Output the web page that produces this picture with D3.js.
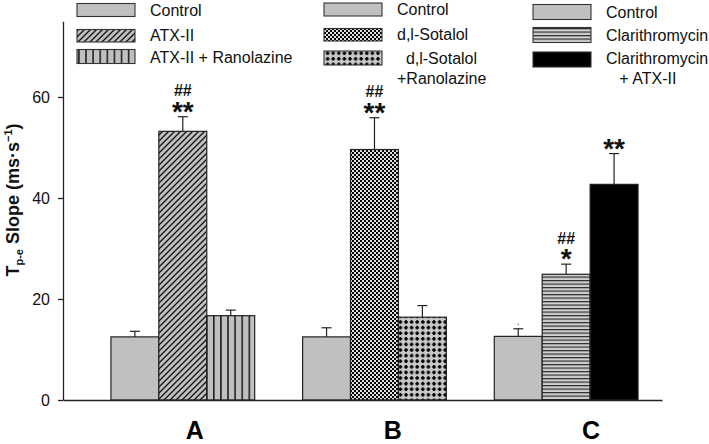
<!DOCTYPE html>
<html>
<head>
<meta charset="utf-8">
<script src="https://cdn.jsdelivr.net/npm/d3@7"></script>
<style>
  html, body { margin: 0; padding: 0; background: #fff; }
  svg { display: block; font-family: "Liberation Sans", Arial, sans-serif; }
</style>
</head>
<body>
<svg id="chart" width="709" height="444"></svg>
<script>
// ---- data ----
const groups = ["A", "B", "C"];
const seriesA = ["Control", "ATX-II", "ATX-II + Ranolazine"];
const seriesB = ["Control", "d,l-Sotalol", "d,l-Sotalol +Ranolazine"];
const seriesC = ["Control", "Clarithromycin", "Clarithromycin + ATX-II"];
const valuesA = [12.5, 53.2, 16.7];
const valuesB = [12.5, 49.6, 16.4];
const valuesC = [12.6, 24.9, 42.7];
const errorsA = [1.1, 2.9, 1.1];
const errorsB = [1.8, 6.3, 2.3];
const errorsC = [1.5, 2.0, 6.1];
const sigStarsA = ["", "**", ""];
const sigStarsB = ["", "**", ""];
const sigStarsC = ["", "*", "**"];
const sigHashA = ["", "##", ""];
const sigHashB = ["", "##", ""];
const sigHashC = ["", "##", ""];
const yTicks = [0, 20, 40, 60];
const yMax = 75;

// ---- setup ----
const svg = d3.select("#chart");
const defs = svg.append("defs");
const GRAY = "#c0c0c0";
const EDGE = "#222";

function pat(id, w, h) {
  return defs.append("pattern").attr("id", id).attr("patternUnits", "userSpaceOnUse")
    .attr("width", w).attr("height", h);
}
// diagonal hatch
let p = pat("diag", 6, 6);
p.append("rect").attr("width", 6).attr("height", 6).attr("fill", GRAY);
p.append("path").attr("d", "M-1,7 L7,-1 M-2,2 L2,-2 M4,8 L8,4").attr("stroke", "#111").attr("stroke-width", 1.3);
// vertical lines
p = pat("vert", 7.1, 10);
p.append("rect").attr("width", 7.1).attr("height", 10).attr("fill", GRAY);
p.append("rect").attr("x", 0).attr("width", 1.6).attr("height", 10).attr("fill", "#222");
// checker
p = pat("check", 4, 4);
p.append("rect").attr("width", 4).attr("height", 4).attr("fill", "#e0e0e0");
p.append("rect").attr("x", 0).attr("y", 0).attr("width", 2).attr("height", 2).attr("fill", "#000");
p.append("rect").attr("x", 2).attr("y", 2).attr("width", 2).attr("height", 2).attr("fill", "#000");
// dots
p = pat("dots", 5.6, 5.6);
p.append("rect").attr("width", 5.6).attr("height", 5.6).attr("fill", "#c8c8c8");
p.append("path").attr("d", "M2.8,0.9 v3.8 M0.9,2.8 h3.8").attr("stroke", "#000").attr("stroke-width", 1.6);
p.append("circle").attr("cx", 2.8).attr("cy", 2.8).attr("r", 1.5).attr("fill", "#000");
// horizontal lines
p = pat("horiz", 10, 3.5);
p.append("rect").attr("width", 10).attr("height", 3.5).attr("fill", "#d0d0d0");
p.append("rect").attr("y", 0).attr("width", 10).attr("height", 1.2).attr("fill", "#2a2a2a");

const fills = [
  [GRAY, "url(#diag)", "url(#vert)"],
  [GRAY, "url(#check)", "url(#dots)"],
  [GRAY, "url(#horiz)", "#000"]
];

const x = d3.scaleLinear().domain([-1, 11.5]).range([63, 662]);
const y = d3.scaleLinear().domain([0, yMax]).range([400, 21.25]);

const allSeries = [seriesA, seriesB, seriesC];
const allValues = [valuesA, valuesB, valuesC];
const allErrors = [errorsA, errorsB, errorsC];
const allStars = [sigStarsA, sigStarsB, sigStarsC];
const allHash = [sigHashA, sigHashB, sigHashC];

const bars = [];
groups.forEach((g, gi) => {
  allValues[gi].forEach((v, i) => {
    bars.push({ g: gi, i, slot: gi * 4 + i, v, e: allErrors[gi][i],
      fill: fills[gi][i], star: allStars[gi][i], hash: allHash[gi][i] });
  });
});

// bars
svg.append("g").selectAll("rect").data(bars).join("rect")
  .attr("x", d => x(d.slot))
  .attr("y", d => y(d.v))
  .attr("width", d => x(d.slot + 1) - x(d.slot))
  .attr("height", d => y(0) - y(d.v))
  .attr("fill", d => d.fill)
  .attr("stroke", EDGE).attr("stroke-width", 1.2);

// error bars
const eb = svg.append("g").attr("stroke", "#222").attr("stroke-width", 1.2);
eb.selectAll("line.v").data(bars).join("line").attr("class", "v")
  .attr("x1", d => x(d.slot + 0.5)).attr("x2", d => x(d.slot + 0.5))
  .attr("y1", d => y(d.v)).attr("y2", d => y(d.v + d.e));
eb.selectAll("line.c").data(bars).join("line").attr("class", "c")
  .attr("x1", d => x(d.slot + 0.5) - 5).attr("x2", d => x(d.slot + 0.5) + 5)
  .attr("y1", d => y(d.v + d.e)).attr("y2", d => y(d.v + d.e));

// significance marks
svg.append("g").selectAll("text").data(bars.filter(d => d.star)).join("text")
  .attr("x", d => x(d.slot + 0.5)).attr("y", d => y(d.v + d.e) + 4)
  .attr("text-anchor", "middle").attr("font-size", 28).attr("font-weight", "bold")
  .attr("fill", "#111").text(d => d.star);
svg.append("g").selectAll("text").data(bars.filter(d => d.hash)).join("text")
  .attr("x", d => x(d.slot + 0.5)).attr("y", d => y(d.v + d.e) - 20.5)
  .attr("text-anchor", "middle").attr("font-size", 16).attr("font-weight", "bold")
  .attr("fill", "#111").text(d => d.hash);
// small dot above d,l-Sotalol + Ranolazine
const dotBar = bars[6];
svg.append("text").attr("x", x(dotBar.slot + 0.5)).attr("y", y(dotBar.v + dotBar.e) - 4)
  .attr("text-anchor", "middle").attr("font-size", 10).attr("fill", "#333").text(".");

// y axis
const yAxis = svg.append("g").attr("transform", `translate(${x(-1)},0)`)
  .call(d3.axisLeft(y).tickValues(yTicks).tickSize(5).tickSizeOuter(0).tickPadding(8));
yAxis.selectAll("path, line").attr("stroke", "#222").attr("stroke-width", 1.3);
yAxis.selectAll("text").attr("font-size", 16).attr("font-family", "'Liberation Sans', Arial, sans-serif").attr("fill", "#111");

// x axis baseline
const xAxis = svg.append("g").attr("transform", `translate(0,${y(0)})`)
  .call(d3.axisBottom(x).tickValues([]).tickSizeOuter(0));
xAxis.selectAll("path").attr("stroke", "#222").attr("stroke-width", 1.5);

// group labels
const labelShift = [0.25, 0.38, 0.52];
svg.append("g").selectAll("text").data(groups).join("text")
  .attr("x", (d, gi) => x(gi * 4 + 1.5 + labelShift[gi]))
  .attr("y", 439)
  .attr("text-anchor", "middle").attr("font-size", 25).attr("font-weight", "bold")
  .attr("fill", "#000").text(d => d);

// y axis title
const yt = svg.append("text").attr("transform", "translate(18.5,200) rotate(-90)")
  .attr("text-anchor", "middle").attr("font-size", 18).attr("font-weight", "bold").attr("fill", "#111");
yt.append("tspan").text("T");
yt.append("tspan").attr("font-size", 11).attr("dy", 4).text("p-e");
yt.append("tspan").attr("dy", -4).text(" Slope (ms·s");
yt.append("tspan").attr("font-size", 11).attr("dy", -7).text("−1");
yt.append("tspan").attr("dy", 7).text(")");

// legends
const legendCols = [
  { swX: 77, txX: 150, sw: [[3.5, 13], [29.5, 12.5], [49.5, 14]], base: [15.5, 40.5, 62.5] },
  { swX: 324, txX: 397, sw: [[3, 13], [28.5, 12.5], [51, 14]], base: [15, 40, 64] },
  { swX: 533, txX: 606, sw: [[4.5, 15], [27.5, 15], [52, 15]], base: [18, 40.5, 64] }
];
const legendText = [
  [["Control"], ["ATX-II"], ["ATX-II + Ranolazine"]],
  [["Control"], ["d,l-Sotalol"], ["  d,l-Sotalol", "+Ranolazine"]],
  [["Control"], ["Clarithromycin"], ["Clarithromycin", "   + ATX-II"]]
];
legendCols.forEach((c, gi) => {
  const lg = svg.append("g");
  allSeries[gi].forEach((s, i) => {
    lg.append("rect").attr("x", c.swX).attr("y", c.sw[i][0]).attr("width", 58).attr("height", c.sw[i][1])
      .attr("fill", fills[gi][i]).attr("stroke", "#333").attr("stroke-width", 1.1);
    const t = lg.append("text").attr("x", c.txX).attr("y", c.base[i]).attr("font-size", 16)
      .attr("fill", "#111").style("white-space", "pre");
    legendText[gi][i].forEach((ln, li) => {
      t.append("tspan").attr("x", c.txX).attr("dy", li === 0 ? 0 : 19.5).text(ln);
    });
  });
});
</script>
</body>
</html>
